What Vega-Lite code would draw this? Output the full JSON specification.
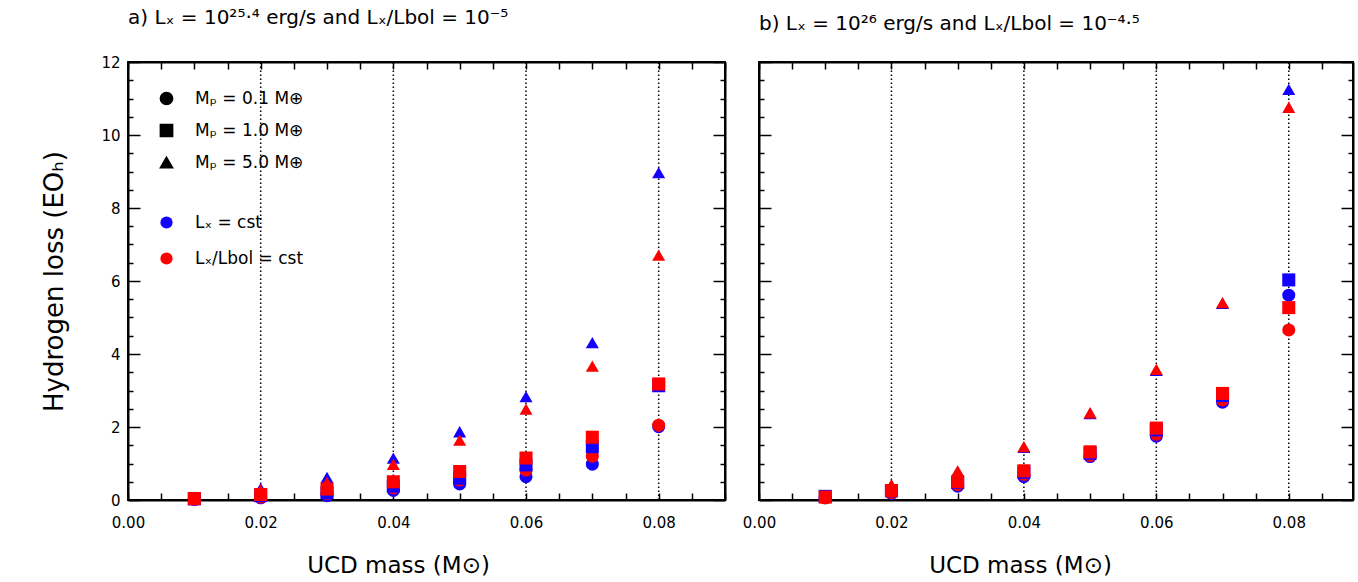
{
  "$schema": "https://vega.github.io/schema/vega-lite/v6.json",
  "padding": {"left": 40, "top": 7, "right": 2, "bottom": 2},
  "config": {
    "font": "DejaVu Sans",
    "view": {"stroke": "black", "strokeWidth": 2},
    "axis": {"grid": false, "domainColor": "black", "domainWidth": 2, "tickColor": "black", "labelColor": "black", "titleColor": "black", "titleFontWeight": "normal", "labelOverlap": false, "labelFlush": false}
  },
  "datasets": {
    "a": [
      {"m":0.01,"v":0.02,"Mp":"0.1","L":"X"},{"m":0.02,"v":0.06,"Mp":"0.1","L":"X"},{"m":0.03,"v":0.12,"Mp":"0.1","L":"X"},{"m":0.04,"v":0.26,"Mp":"0.1","L":"X"},{"m":0.05,"v":0.44,"Mp":"0.1","L":"X"},{"m":0.06,"v":0.64,"Mp":"0.1","L":"X"},{"m":0.07,"v":0.98,"Mp":"0.1","L":"X"},{"m":0.08,"v":2.01,"Mp":"0.1","L":"X"},
      {"m":0.01,"v":0.02,"Mp":"0.1","L":"R"},{"m":0.02,"v":0.08,"Mp":"0.1","L":"R"},{"m":0.03,"v":0.18,"Mp":"0.1","L":"R"},{"m":0.04,"v":0.33,"Mp":"0.1","L":"R"},{"m":0.05,"v":0.55,"Mp":"0.1","L":"R"},{"m":0.06,"v":0.82,"Mp":"0.1","L":"R"},{"m":0.07,"v":1.2,"Mp":"0.1","L":"R"},{"m":0.08,"v":2.05,"Mp":"0.1","L":"R"},
      {"m":0.01,"v":0.04,"Mp":"5.0","L":"X"},{"m":0.02,"v":0.32,"Mp":"5.0","L":"X"},{"m":0.03,"v":0.62,"Mp":"5.0","L":"X"},{"m":0.04,"v":1.15,"Mp":"5.0","L":"X"},{"m":0.05,"v":1.87,"Mp":"5.0","L":"X"},{"m":0.06,"v":2.83,"Mp":"5.0","L":"X"},{"m":0.07,"v":4.31,"Mp":"5.0","L":"X"},{"m":0.08,"v":8.97,"Mp":"5.0","L":"X"},
      {"m":0.01,"v":0.03,"Mp":"5.0","L":"R"},{"m":0.02,"v":0.28,"Mp":"5.0","L":"R"},{"m":0.03,"v":0.48,"Mp":"5.0","L":"R"},{"m":0.04,"v":0.98,"Mp":"5.0","L":"R"},{"m":0.05,"v":1.64,"Mp":"5.0","L":"R"},{"m":0.06,"v":2.49,"Mp":"5.0","L":"R"},{"m":0.07,"v":3.67,"Mp":"5.0","L":"R"},{"m":0.08,"v":6.71,"Mp":"5.0","L":"R"},
      {"m":0.01,"v":0.03,"Mp":"1.0","L":"X"},{"m":0.02,"v":0.12,"Mp":"1.0","L":"X"},{"m":0.03,"v":0.2,"Mp":"1.0","L":"X"},{"m":0.04,"v":0.38,"Mp":"1.0","L":"X"},{"m":0.05,"v":0.6,"Mp":"1.0","L":"X"},{"m":0.06,"v":0.96,"Mp":"1.0","L":"X"},{"m":0.07,"v":1.46,"Mp":"1.0","L":"X"},{"m":0.08,"v":3.13,"Mp":"1.0","L":"X"},
      {"m":0.01,"v":0.04,"Mp":"1.0","L":"R"},{"m":0.02,"v":0.15,"Mp":"1.0","L":"R"},{"m":0.03,"v":0.3,"Mp":"1.0","L":"R"},{"m":0.04,"v":0.5,"Mp":"1.0","L":"R"},{"m":0.05,"v":0.78,"Mp":"1.0","L":"R"},{"m":0.06,"v":1.15,"Mp":"1.0","L":"R"},{"m":0.07,"v":1.72,"Mp":"1.0","L":"R"},{"m":0.08,"v":3.18,"Mp":"1.0","L":"R"}
    ],
    "b": [
      {"m":0.01,"v":0.06,"Mp":"0.1","L":"X"},{"m":0.02,"v":0.18,"Mp":"0.1","L":"X"},{"m":0.03,"v":0.38,"Mp":"0.1","L":"X"},{"m":0.04,"v":0.64,"Mp":"0.1","L":"X"},{"m":0.05,"v":1.19,"Mp":"0.1","L":"X"},{"m":0.06,"v":1.75,"Mp":"0.1","L":"X"},{"m":0.07,"v":2.68,"Mp":"0.1","L":"X"},{"m":0.08,"v":5.61,"Mp":"0.1","L":"X"},
      {"m":0.01,"v":0.06,"Mp":"0.1","L":"R"},{"m":0.02,"v":0.2,"Mp":"0.1","L":"R"},{"m":0.03,"v":0.42,"Mp":"0.1","L":"R"},{"m":0.04,"v":0.7,"Mp":"0.1","L":"R"},{"m":0.05,"v":1.22,"Mp":"0.1","L":"R"},{"m":0.06,"v":1.8,"Mp":"0.1","L":"R"},{"m":0.07,"v":2.74,"Mp":"0.1","L":"R"},{"m":0.08,"v":4.66,"Mp":"0.1","L":"R"},
      {"m":0.01,"v":0.08,"Mp":"5.0","L":"X"},{"m":0.02,"v":0.4,"Mp":"5.0","L":"X"},{"m":0.03,"v":0.78,"Mp":"5.0","L":"X"},{"m":0.04,"v":1.44,"Mp":"5.0","L":"X"},{"m":0.05,"v":2.37,"Mp":"5.0","L":"X"},{"m":0.06,"v":3.55,"Mp":"5.0","L":"X"},{"m":0.07,"v":5.39,"Mp":"5.0","L":"X"},{"m":0.08,"v":11.25,"Mp":"5.0","L":"X"},
      {"m":0.01,"v":0.07,"Mp":"5.0","L":"R"},{"m":0.02,"v":0.42,"Mp":"5.0","L":"R"},{"m":0.03,"v":0.8,"Mp":"5.0","L":"R"},{"m":0.04,"v":1.46,"Mp":"5.0","L":"R"},{"m":0.05,"v":2.39,"Mp":"5.0","L":"R"},{"m":0.06,"v":3.58,"Mp":"5.0","L":"R"},{"m":0.07,"v":5.41,"Mp":"5.0","L":"R"},{"m":0.08,"v":10.76,"Mp":"5.0","L":"R"},
      {"m":0.01,"v":0.1,"Mp":"1.0","L":"X"},{"m":0.02,"v":0.25,"Mp":"1.0","L":"X"},{"m":0.03,"v":0.48,"Mp":"1.0","L":"X"},{"m":0.04,"v":0.76,"Mp":"1.0","L":"X"},{"m":0.05,"v":1.28,"Mp":"1.0","L":"X"},{"m":0.06,"v":1.92,"Mp":"1.0","L":"X"},{"m":0.07,"v":2.86,"Mp":"1.0","L":"X"},{"m":0.08,"v":6.03,"Mp":"1.0","L":"X"},
      {"m":0.01,"v":0.08,"Mp":"1.0","L":"R"},{"m":0.02,"v":0.26,"Mp":"1.0","L":"R"},{"m":0.03,"v":0.5,"Mp":"1.0","L":"R"},{"m":0.04,"v":0.8,"Mp":"1.0","L":"R"},{"m":0.05,"v":1.32,"Mp":"1.0","L":"R"},{"m":0.06,"v":1.97,"Mp":"1.0","L":"R"},{"m":0.07,"v":2.92,"Mp":"1.0","L":"R"},{"m":0.08,"v":5.27,"Mp":"1.0","L":"R"}
    ],
    "lines": [{"m":0.02},{"m":0.04},{"m":0.06},{"m":0.08}]
  },
  "spacing": 14,
  "resolve": {
    "scale": {"x": "independent", "y": "independent", "color": "independent", "shape": "independent"},
    "legend": {"color": "independent", "shape": "independent"}
  },
  "hconcat": [
    {
      "width": 597,
      "height": 438,
      "title": {"text": "a) Lₓ = 10²⁵·⁴ erg/s and Lₓ/Lbol = 10⁻⁵", "anchor": "start", "frame": "group", "fontSize": 20, "fontWeight": "normal", "color": "black", "offset": 27},
      "resolve": {"axis": {"x": "independent", "y": "independent"}},
      "layer": [
        {
          "data": {"name": "lines"},
          "mark": {"type": "rule", "strokeDash": [1.5, 2.5], "strokeWidth": 1.5, "color": "black"},
          "encoding": {
            "x": {"field": "m", "type": "quantitative", "scale": {"domain": [0, 0.09], "nice": false, "zero": false},
              "axis": {"orient": "bottom", "values": [0,0.005,0.01,0.015,0.02,0.025,0.03,0.035,0.04,0.045,0.05,0.055,0.06,0.065,0.07,0.075,0.08,0.085,0.09],
                "tickSize": -7, "tickWidth": 1.5, "labelExpr": "abs(datum.value*50 - round(datum.value*50)) < 0.01 ? format(datum.value, '.2f') : ''",
                "labelFontSize": 15, "labelPadding": 22, "labelDx": -6, "title": "UCD mass (M⊙)", "titleFontSize": 23, "titlePadding": 24, "titleX": 270}},
            "y": {"datum": 0, "type": "quantitative", "scale": {"domain": [0, 12], "nice": false},
              "axis": {"orient": "left", "values": [0,0.5,1,1.5,2,2.5,3,3.5,4,4.5,5,5.5,6,6.5,7,7.5,8,8.5,9,9.5,10,10.5,11,11.5,12],
                "tickSize": {"condition": {"test": "datum.value % 2 === 0", "value": -12}, "value": -5}, "tickWidth": 1.5,
                "labelExpr": "datum.value % 2 === 0 ? format(datum.value, 'd') : ''", "labelFontSize": 15, "labelPadding": 20,
                "title": "Hydrogen loss (EOₕ)", "titleFontSize": 26, "titlePadding": 33}},
            "y2": {"datum": 12}
          }
        },
        {
          "data": {"name": "a"},
          "mark": {"type": "point", "filled": true, "size": 170, "opacity": 1},
          "encoding": {
            "x": {"field": "m", "type": "quantitative",
              "axis": {"orient": "top", "values": [0,0.005,0.01,0.015,0.02,0.025,0.03,0.035,0.04,0.045,0.05,0.055,0.06,0.065,0.07,0.075,0.08,0.085,0.09],
                "tickSize": -7, "tickWidth": 1.5, "labels": false, "title": null}},
            "y": {"field": "v", "type": "quantitative",
              "axis": {"orient": "right", "values": [0,0.5,1,1.5,2,2.5,3,3.5,4,4.5,5,5.5,6,6.5,7,7.5,8,8.5,9,9.5,10,10.5,11,11.5,12],
                "tickSize": {"condition": {"test": "datum.value % 2 === 0", "value": -12}, "value": -5}, "tickWidth": 1.5, "labels": false, "title": null}},
            "shape": {"field": "Mp", "type": "nominal", "scale": {"domain": ["0.1", "1.0", "5.0"], "range": ["circle", "square", "triangle-up"]},
              "legend": {"orient": "none", "legendX": 30, "legendY": 28, "title": null, "labelFontSize": 17, "labelColor": "black",
                "labelExpr": "'Mₚ = ' + datum.label + ' M⊕'", "symbolFillColor": "black", "symbolStrokeColor": "black", "symbolSize": 150, "rowPadding": 13, "labelOffset": 20}},
            "color": {"field": "L", "type": "nominal", "scale": {"domain": ["X", "R"], "range": ["#1400ff", "#ff0000"]},
              "legend": {"orient": "none", "legendX": 30, "legendY": 152, "title": null, "labelFontSize": 17, "labelColor": "black",
                "labelExpr": "datum.label == 'X' ? 'Lₓ = cst' : 'Lₓ/Lbol = cst'", "symbolType": "circle", "symbolSize": 150, "rowPadding": 18, "labelOffset": 20}}
          }
        }
      ]
    },
    {
      "width": 594,
      "height": 438,
      "title": {"text": "b) Lₓ = 10²⁶ erg/s and Lₓ/Lbol = 10⁻⁴·⁵", "anchor": "start", "frame": "group", "fontSize": 20, "fontWeight": "normal", "color": "black", "offset": 27},
      "resolve": {"axis": {"x": "independent", "y": "independent"}},
      "layer": [
        {
          "data": {"name": "lines"},
          "mark": {"type": "rule", "strokeDash": [1.5, 2.5], "strokeWidth": 1.5, "color": "black"},
          "encoding": {
            "x": {"field": "m", "type": "quantitative", "scale": {"domain": [0, 0.0897], "nice": false, "zero": false},
              "axis": {"orient": "bottom", "values": [0,0.005,0.01,0.015,0.02,0.025,0.03,0.035,0.04,0.045,0.05,0.055,0.06,0.065,0.07,0.075,0.08,0.085],
                "tickSize": -7, "tickWidth": 1.5, "labelExpr": "abs(datum.value*50 - round(datum.value*50)) < 0.01 ? format(datum.value, '.2f') : ''",
                "labelFontSize": 15, "labelPadding": 22, "title": "UCD mass (M⊙)", "titleFontSize": 23, "titlePadding": 24, "titleX": 261}},
            "y": {"datum": 0, "type": "quantitative", "scale": {"domain": [0, 12], "nice": false},
              "axis": {"orient": "left", "values": [0,0.5,1,1.5,2,2.5,3,3.5,4,4.5,5,5.5,6,6.5,7,7.5,8,8.5,9,9.5,10,10.5,11,11.5,12],
                "tickSize": {"condition": {"test": "datum.value % 2 === 0", "value": -12}, "value": -5}, "tickWidth": 1.5, "labels": false, "title": null}},
            "y2": {"datum": 12}
          }
        },
        {
          "data": {"name": "b"},
          "mark": {"type": "point", "filled": true, "size": 170, "opacity": 1},
          "encoding": {
            "x": {"field": "m", "type": "quantitative",
              "axis": {"orient": "top", "values": [0,0.005,0.01,0.015,0.02,0.025,0.03,0.035,0.04,0.045,0.05,0.055,0.06,0.065,0.07,0.075,0.08,0.085],
                "tickSize": -7, "tickWidth": 1.5, "labels": false, "title": null}},
            "y": {"field": "v", "type": "quantitative",
              "axis": {"orient": "right", "values": [0,0.5,1,1.5,2,2.5,3,3.5,4,4.5,5,5.5,6,6.5,7,7.5,8,8.5,9,9.5,10,10.5,11,11.5,12],
                "tickSize": {"condition": {"test": "datum.value % 2 === 0", "value": -12}, "value": -5}, "tickWidth": 1.5, "labels": false, "title": null}},
            "shape": {"field": "Mp", "type": "nominal", "scale": {"domain": ["0.1", "1.0", "5.0"], "range": ["circle", "square", "triangle-up"]}, "legend": null},
            "color": {"field": "L", "type": "nominal", "scale": {"domain": ["X", "R"], "range": ["#1400ff", "#ff0000"]}, "legend": null}
          }
        }
      ]
    }
  ]
}
